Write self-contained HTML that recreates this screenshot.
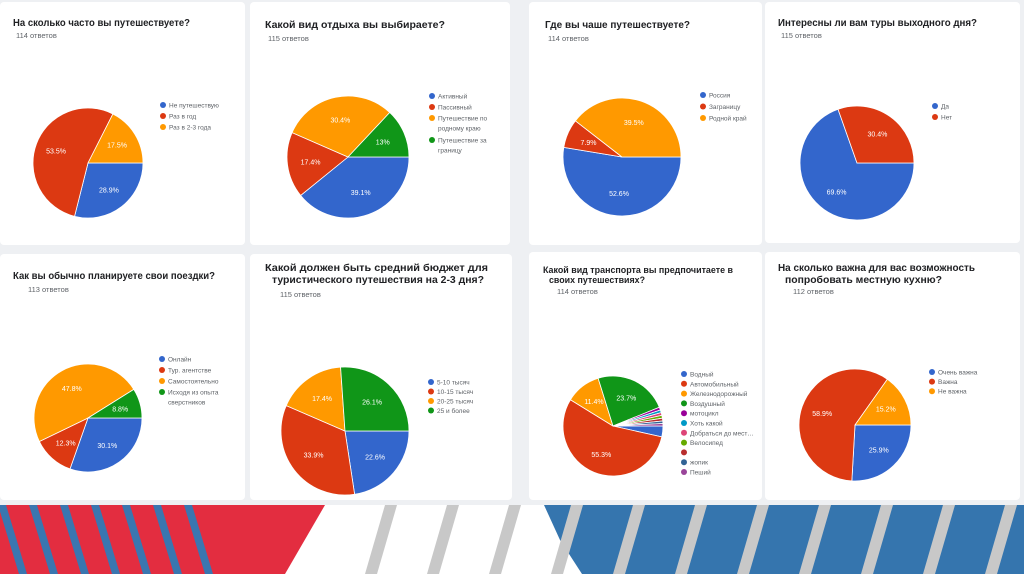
<!DOCTYPE html>
<html><head><meta charset="utf-8">
<style>
body{margin:0;width:1024px;height:574px;background:#eef0f3;overflow:hidden;font-family:"Liberation Sans","Noto Sans CJK SC",sans-serif;position:relative}
.card{position:absolute;background:#fff;border-radius:4px}
svg{position:absolute;left:0;top:0}
</style></head><body>
<div class="card" style="left:0;top:2px;width:245px;height:243px"></div>
<div class="card" style="left:250px;top:2px;width:260px;height:243px"></div>
<div class="card" style="left:529px;top:2px;width:233px;height:243px"></div>
<div class="card" style="left:765px;top:2px;width:255px;height:241px"></div>
<div class="card" style="left:0;top:254px;width:245px;height:246px"></div>
<div class="card" style="left:250px;top:254px;width:262px;height:246px"></div>
<div class="card" style="left:529px;top:252px;width:233px;height:248px"></div>
<div class="card" style="left:765px;top:252px;width:255px;height:248px"></div>
<svg id="chart" width="1024" height="574"></svg>
<script>
const colors=["#3366cc","#dc3912","#ff9900","#109618","#990099","#0099c6","#dd4477","#66aa00","#b82e2e","#316395","#994499"];
const titles=[["На сколько часто вы путешествуете?"],["Какой вид отдыха вы выбираете?"],["Где вы чаше путешествуете?"],["Интересны ли вам туры выходного дня?"],["Как вы обычно  планируете свои  поездки?"],["Какой должен  быть средний  бюджет для","туристического  путешествия на 2-3 дня?"],["Какой вид транспорта вы предпочитаете в","своих путешествиях?"],["На сколько важна для вас  возможность","попробовать  местную кухню?"]];
const counts=["114 ответов","115 ответов","114 ответов","115 ответов","113 ответов","115 ответов","114 ответов","112 ответов"];
const values1=[28.9,53.5,17.5];
const values2=[39.1,17.4,30.4,13];
const values3=[52.6,7.9,39.5];
const values4=[69.6,30.4];
const values5=[30.1,12.3,47.8,8.8];
const values6=[22.6,33.9,17.4,26.1];
const values7=[3.5,55.3,11.4,23.7,0.9,0.9,0.9,0.9,0.9,0.8,0.8];
const values8=[25.9,58.9,15.2];
const labels1=["Не путешествую","Раз в год","Раз в 2-3 года"];
const labels2=["Активный","Пассивный","Путешествие по|родному краю","Путешествие за|границу"];
const labels3=["Россия","Заграницу","Родной край"];
const labels4=["Да","Нет"];
const labels5=["Онлайн","Тур. агентстве","Самостоятельно","Исходя из опыта|сверстников"];
const labels6=["5-10 тысяч","10-15 тысяч","20-25 тысяч","25 и более"];
const labels7=["Водный","Автомобильный","Железнодорожный","Воздушный","мотоцикл","Хоть какой","Добраться до мест…","Велосипед","","жопик","Пеший"];
const labels8=["Очень важна","Важна","Не важна"];
const allValues=[values1,values2,values3,values4,values5,values6,values7,values8];
const allLabels=[labels1,labels2,labels3,labels4,labels5,labels6,labels7,labels8];
// layout: [cx,cy,r,titleX,titleY,legendX,legendY,legendStep,countX,countY,fontSize,lineStep]
const layout=[[88,163,55,13,26,163,105,11,16,38,10.5,12],[348,157,61,265,28,432,96,11,268,41,10.5,12],[622,157,59,545,28,703,95,11.5,548,41,10.5,12],[857,163,57,778,26,935,106,11,781,38,10.5,12],[88,418,54,13,279,162,359,11,28,292,10.5,12],[345,431,64,265,271,431,382,9.5,280,297,10.5,12],[613,426,50,543,273,684,374,9.8,557,294,9.5,10],[855,425,56,778,271,932,372,9.6,793,294,10.5,12]];
const titleWidths=[[177],[180],[145],[199],[202],[223,212],[190,96],[197,157]];
const titleOffsets=[[0],[0],[0],[0],[0],[0,7],[0,6],[0,7]];
const svg=document.getElementById('chart');
const NS="http://www.w3.org/2000/svg";
function mk(t,a){const e=document.createElementNS(NS,t);for(const k in a)e.setAttribute(k,a[k]);svg.appendChild(e);return e;}
function angle(frac){return frac*2*Math.PI;}
function pt(cx,cy,r,a){return [cx+r*Math.cos(a),cy+r*Math.sin(a)];}
allValues.forEach((vals,ci)=>{
  const [cx,cy,r,tx,ty,lx,ly,ls,cx2,cy2,fs,lstep]=layout[ci];
  titles[ci].forEach((line,li)=>{
    const t=mk('text',{x:tx+titleOffsets[ci][li],y:ty+li*lstep,'font-size':fs,'font-weight':'bold',fill:'#202124',textLength:titleWidths[ci][li],lengthAdjust:'spacingAndGlyphs'});
    t.textContent=line;
    
    
  });
  const c=mk('text',{x:cx2,y:cy2,'font-size':7.5,fill:'#5f6368'});
  c.textContent=counts[ci];
  
  
  const total=vals.reduce((a,b)=>a+b,0);
  let acc=0;
  vals.forEach((v,i)=>{
    const a0=angle(acc/total),a1=angle((acc+v)/total);acc+=v;
    const p0=pt(cx,cy,r,a0),p1=pt(cx,cy,r,a1);
    const large=(a1-a0)>Math.PI?1:0;
    const p=mk('path',{d:`M${cx},${cy}L${p0[0]},${p0[1]}A${r},${r} 0 ${large} 1 ${p1[0]},${p1[1]}Z`,fill:colors[i],stroke:'#fff','stroke-width':0.8});
    
    
    if(v/total>0.05){
      const m=(a0+a1)/2,q=pt(cx,cy,r*0.62,m);
      const t=mk('text',{x:q[0],y:q[1]+2.5,'font-size':7,fill:'#fff','text-anchor':'middle'});
      t.textContent=(Math.round(v*10)/10)+'%';
      
      
    }
  });
  let y=ly;
  allLabels[ci].forEach((lab,i)=>{
    const d=mk('circle',{cx:lx,cy:y,r:3,fill:colors[i]});
    
    
    lab.split('|').forEach((ln,k)=>{
      const t=mk('text',{x:lx+6,y:y+2.5+k*10,'font-size':6.5,fill:'#5f6368'});
      t.textContent=ln;
      
      
    });
    y+=ls*(lab.split('|').length>1?2:1);
  });
});
// decorative band
const band=mk('g',{});


function poly(pts,fill){const p=document.createElementNS(NS,'polygon');p.setAttribute('points',pts);p.setAttribute('fill',fill);band.appendChild(p);return p;}
poly('0,505 1024,505 1024,574 0,574','#ffffff');
poly('0,505 325,505 285,574 0,574','#e32d40');
for(let x=-2;x<200;x+=31){poly(`${x},505 ${x+8},505 ${x+29},574 ${x+21},574`,'#3a76b0');}
poly('544,505 1024,505 1024,574 582,574 560,540','#3575ae');
for(let x=385;x<1070;x+=62){poly(`${x},505 ${x+12},505 ${x-8},574 ${x-20},574`,'#c8c8c8');}
</script>
</body></html>
